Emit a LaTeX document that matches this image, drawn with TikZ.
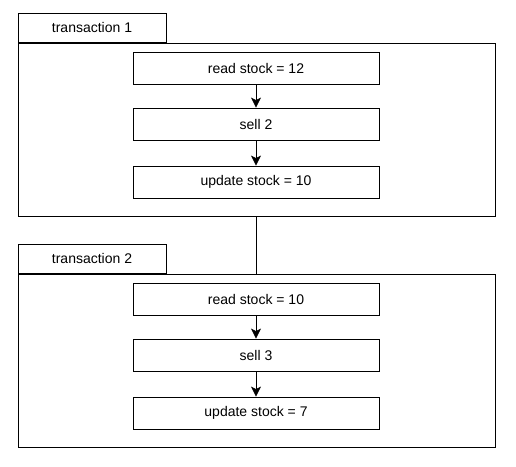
\documentclass[tikz,border=0pt]{standalone}
\usepackage{fontspec}
\setmainfont{Liberation Sans}
\usetikzlibrary{positioning, arrows.meta}

\begin{document}
\begin{tikzpicture}[x=1pt, y=-1pt, line width=0.8pt,
		stepbox/.style={draw, minimum width=246pt, minimum height=32pt, inner sep=0pt, font=\fontsize{14}{16}\selectfont},
		tabbox/.style={draw, minimum width=148pt, minimum height=29pt, inner sep=0pt, font=\fontsize{14}{16}\selectfont},
		framebox/.style={draw, minimum width=477pt, minimum height=173pt, inner sep=0pt},
		flow/.style={-{Stealth[width=10pt, length=10pt, inset=2.5pt]}}]
					\useasboundingbox (0,0) rectangle (516,466);
					\node[framebox] (frame1) at (256.5,129.5) {};
					\node[tabbox, anchor=south west] (tab1) at (frame1.north west) {transaction 1};
					\node[stepbox] (read1) at (256,68) {read stock = 12};
					\node[stepbox] (sell1) at (256,124) {sell 2};
					\node[stepbox] (update1) at (256,182) {update stock = 10};
					\draw[flow] (read1) -- (sell1);
					\draw[flow] (sell1) -- (update1);
					\node[framebox] (frame2) at (256.5,360.5) {};
					\node[tabbox, anchor=south west] (tab2) at (frame2.north west) {transaction 2};
					\node[stepbox] (read2) at (256,299) {read stock = 10};
					\node[stepbox] (sell2) at (256,355) {sell 3};
					\node[stepbox] (update2) at (256,413) {update stock = 7};
					\draw[flow] (read2) -- (sell2);
					\draw[flow] (sell2) -- (update2);
					\draw (frame1.south) -- (frame2.north);
				\end{tikzpicture}
\end{document}
